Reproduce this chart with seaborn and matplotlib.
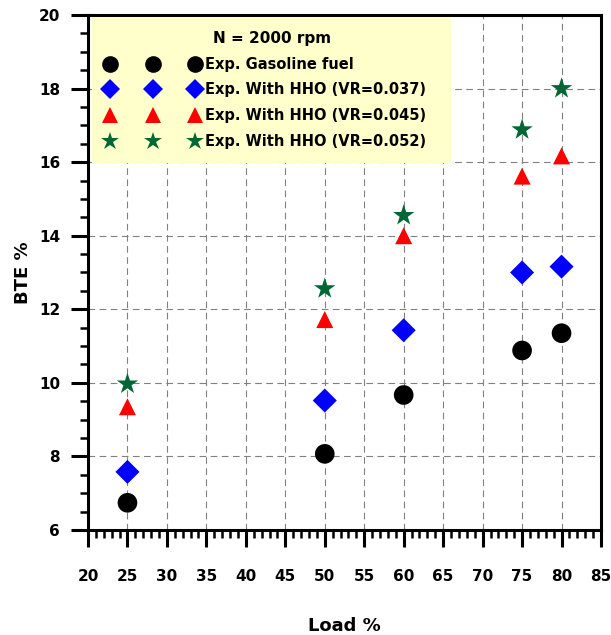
import matplotlib
matplotlib.use("Agg")
import matplotlib.pyplot as plt
import seaborn as sns
import pandas as pd
from matplotlib.ticker import MultipleLocator
from matplotlib.lines import Line2D

load = [25, 50, 60, 75, 80]
bte_gasoline = [6.74, 8.07, 9.67, 10.88, 11.35]
bte_hho_037 = [7.58, 9.52, 11.43, 13.0, 13.16]
bte_hho_045 = [9.35, 11.72, 14.0, 15.62, 16.17]
bte_hho_052 = [9.97, 12.56, 14.55, 16.88, 18.0]

series_labels = ["Exp. Gasoline fuel", "Exp. With HHO (VR=0.037)",
                 "Exp. With HHO (VR=0.045)", "Exp. With HHO (VR=0.052)"]
series_values = [bte_gasoline, bte_hho_037, bte_hho_045, bte_hho_052]
colors = ["#000000", "#0000FF", "#FF0000", "#006633"]
markers = ["o", "D", "^", "*"]
sizes = [200, 150, 150, 260]
legend_msizes = [12, 10.5, 11, 13.5]

sns.set_style("white")
plt.rcParams["font.family"] = ["DejaVu Sans"]
plt.rcParams["font.weight"] = "bold"
plt.rcParams["text.color"] = "black"
plt.rcParams["axes.labelcolor"] = "black"
plt.rcParams["xtick.color"] = "black"
plt.rcParams["ytick.color"] = "black"

fig = plt.figure(figsize=(6.11, 6.35), dpi=100)
ax = fig.add_axes([88/611, 105/635, 513/611, 515/635])

for lab, vals, c, m, s in zip(series_labels, series_values, colors, markers, sizes):
    df = pd.DataFrame({"Load": load, "BTE": vals})
    sns.scatterplot(data=df, x="Load", y="BTE", ax=ax, color=c, marker=m, s=s,
                    edgecolor="none", linewidth=0, legend=False, zorder=3)

ax.set_xlim(20, 85)
ax.set_ylim(6, 20)
ax.xaxis.set_major_locator(MultipleLocator(5))
ax.xaxis.set_minor_locator(MultipleLocator(1))
ax.yaxis.set_major_locator(MultipleLocator(2))
ax.yaxis.set_minor_locator(MultipleLocator(0.5))

ax.grid(True, which="major", color="#808080", linestyle=(0, (6, 4)), linewidth=0.8, zorder=0)
ax.set_axisbelow(True)

for sp in ax.spines.values():
    sp.set_color("black")
    sp.set_linewidth(2.2)

ax.tick_params(axis="x", which="major", direction="out", length=12, width=2.2, pad=16,
               labelsize=11, bottom=True, top=False, colors="black")
ax.tick_params(axis="x", which="minor", direction="out", length=6, width=1.8, bottom=True, top=False)
ax.tick_params(axis="y", which="major", direction="out", length=12, width=2.2, pad=8,
               labelsize=11, left=True, right=False, colors="black")
ax.tick_params(axis="y", which="minor", direction="out", length=6, width=1.8, left=True, right=False)
for lbl in ax.get_xticklabels() + ax.get_yticklabels():
    lbl.set_fontweight("bold")

ax.set_xlabel("Load %", fontsize=13, fontweight="bold", labelpad=24, color="black")
ax.set_ylabel("BTE %", fontsize=13, fontweight="bold", labelpad=5, color="black")

handles = [Line2D([], [], linestyle="none", marker=m, color=c, markersize=ms, markeredgewidth=0)
           for m, c, ms in zip(markers, colors, legend_msizes)]
leg = ax.legend(handles, series_labels, loc="upper left",
                bbox_to_anchor=(0.008, 0.996, 0.70, 0.0), mode="expand",
                title="N = 2000 rpm", numpoints=3, frameon=True, fancybox=False,
                facecolor="#FFFFCC", edgecolor="none", framealpha=1.0,
                prop={"weight": "bold", "size": 10.5}, title_fontproperties={"weight": "bold", "size": 11},
                borderaxespad=0, handlelength=6.4, handletextpad=0.4, labelspacing=0.74,
                borderpad=0.95)
leg.set_zorder(5)
for t in leg.get_texts():
    t.set_color("black")
leg.get_title().set_color("black")

fig.savefig("out.png", dpi=100)
